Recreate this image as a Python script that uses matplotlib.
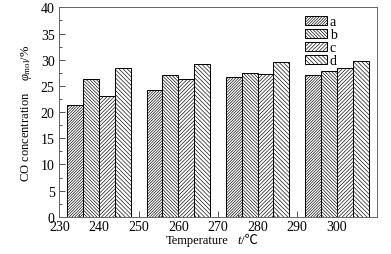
import matplotlib
matplotlib.use('Agg')
import matplotlib.pyplot as plt
from matplotlib.ticker import MultipleLocator
import numpy as np

plt.rcParams['font.family'] = ['Liberation Serif', 'Noto Sans CJK SC', 'DejaVu Sans']
plt.rcParams['mathtext.fontset'] = 'custom'
plt.rcParams['mathtext.rm'] = 'Liberation Serif'
plt.rcParams['mathtext.it'] = 'Liberation Serif:italic'
plt.rcParams['hatch.linewidth'] = 0.45

temps = [240, 260, 280, 300]
series = ['a', 'b', 'c', 'd']
a_vals = [21.4, 24.2, 26.8, 27.0]
b_vals = [26.4, 27.0, 27.4, 27.9]
c_vals = [23.0, 26.4, 27.3, 28.5]
d_vals = [28.5, 29.1, 29.5, 29.7]
hatches = ['/' * 12, '\\' * 10, '/' * 9, '\\' * 8]

fig = plt.figure(figsize=(3.91, 2.55), dpi=100)
ax = fig.add_axes([0.152, 0.146, 0.811, 0.821])

width = 4
x = np.array(temps)
for i, (name, vals) in enumerate(zip(series, [a_vals, b_vals, c_vals, d_vals])):
    ax.bar(x + (i - 1.5) * width, vals, width, color='white', edgecolor='black',
           linewidth=0.7, hatch=hatches[i], label=name)

ax.set_xlim(230, 310)
ax.set_ylim(0, 40)
ax.xaxis.set_major_locator(MultipleLocator(10))
ax.xaxis.set_minor_locator(MultipleLocator(5))
ax.yaxis.set_major_locator(MultipleLocator(5))
ax.yaxis.set_minor_locator(MultipleLocator(2.5))
ax.set_xticks([230, 240, 250, 260, 270, 280, 290, 300])
ax.tick_params(which='both', direction='in', labelsize=10, width=0.6, color='#333333')
ax.tick_params(axis='x', pad=2)
ax.tick_params(which='major', length=4)
ax.tick_params(which='minor', length=2)
for s in ax.spines.values():
    s.set_color('#666666')
    s.set_linewidth(0.7)

# x label in pieces so that the degree sign can fall back to another font
ty = 1 - 241 / 255
fig.text(229 / 391, ty, 'Temperature', ha='right', va='center', fontsize=9)
fig.text(237 / 391, ty, 't', ha='left', va='center', fontsize=9, style='italic')
fig.text(241 / 391, ty, '/\u2103', ha='left', va='center', fontsize=9.5)
ax.set_ylabel('CO concentration    $\\varphi_{\\mathrm{mol}}$/%', fontsize=9, labelpad=5)

ax.legend(loc='upper right', bbox_to_anchor=(0.905, 1.01), frameon=False, fontsize=10,
          handlelength=1.6, handleheight=0.6, handletextpad=0.2, labelspacing=0.0,
          borderpad=0.2)

fig.savefig('out.png', dpi=100)
plt.close()
